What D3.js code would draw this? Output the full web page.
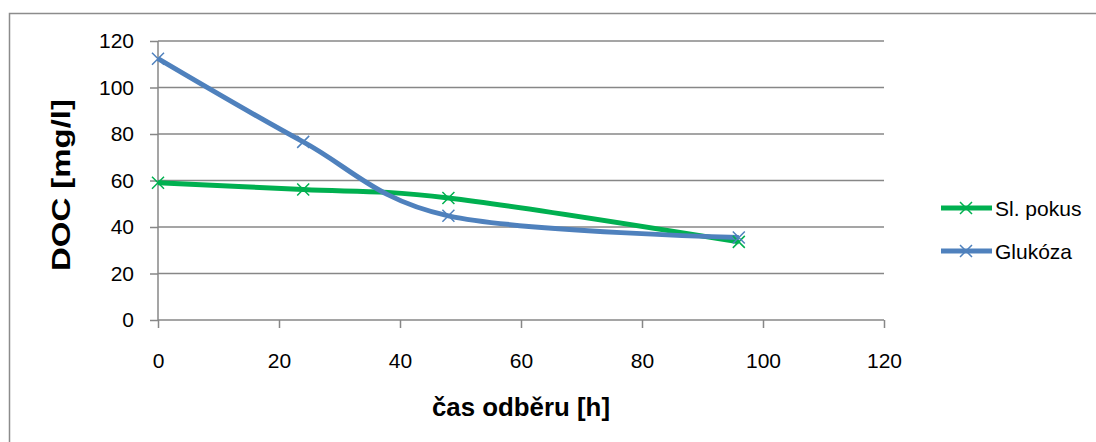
<!DOCTYPE html>
<html><head><meta charset="utf-8">
<script src="https://cdn.jsdelivr.net/npm/d3@7"></script>
<style>body{margin:0;background:#fff}svg{display:block}</style>
</head><body>
<svg id="c" width="1096" height="442"></svg>
<script>
const hours = [0, 24, 48, 96];
const slPokus = [59.0, 56.1, 52.5, 33.6];
const glukoza = [112.4, 76.6, 44.8, 35.5];
const seriesNames = ["Sl. pokus", "Glukóza"];
const seriesColors = ["#00B050", "#4F81BD"];
const xTicks = [0, 20, 40, 60, 80, 100, 120];
const yTicks = [0, 20, 40, 60, 80, 100, 120];
const xTitle = "čas odběru [h]";
const yTitle = "DOC [mg/l]";

const svg = d3.select("#c");
const font = "'Liberation Sans','Arial',sans-serif";
// chart border
svg.append("rect").attr("x",9.5).attr("y",13.5).attr("width",1100).attr("height",440)
  .attr("fill","none").attr("stroke","#8c8c8c").attr("stroke-width",1.5);

const x = d3.scaleLinear().domain([0,120]).range([158,884]);
const y = d3.scaleLinear().domain([0,120]).range([320,41]);

// gridlines
svg.append("g").selectAll("line").data(yTicks.filter(d=>d>0)).join("line")
  .attr("x1",x(0)).attr("x2",x(120)).attr("y1",d=>y(d)).attr("y2",d=>y(d))
  .attr("stroke","#878787").attr("stroke-width",1.5);

const xa = svg.append("g").attr("transform",`translate(0,${y(0)})`)
  .call(d3.axisBottom(x).tickValues(xTicks).tickSize(8).tickPadding(25));
const ya = svg.append("g").attr("transform",`translate(${x(0)},0)`)
  .call(d3.axisLeft(y).tickValues(yTicks).tickSize(8).tickPadding(16));
[xa,ya].forEach(a=>{
  a.select(".domain").attr("stroke","#878787").attr("stroke-width",1.5);
  a.selectAll(".tick line").attr("stroke","#878787").attr("stroke-width",1.5);
  a.selectAll("text").attr("font-family",font).attr("font-size",21).attr("fill","#000");
});
xa.select(".domain").attr("d",`M${x(0)},0H${x(120)}`);
ya.select(".domain").attr("d",`M0,${y(0)}V${y(120)}`);

svg.append("text").attr("x",521).attr("y",416).attr("text-anchor","middle")
  .attr("font-family",font).attr("font-weight","bold").attr("font-size",25)
  .attr("textLength",178).attr("lengthAdjust","spacingAndGlyphs").text(xTitle);
svg.append("text").attr("transform","translate(70,185) rotate(-90)").attr("text-anchor","middle")
  .attr("font-family",font).attr("font-weight","bold").attr("font-size",25)
  .attr("textLength",172).attr("lengthAdjust","spacingAndGlyphs").text(yTitle);

const line = d3.line().x(d=>x(d[0])).y(d=>y(d[1])).curve(d3.curveCatmullRom.alpha(0));
const data = [slPokus, glukoza];
data.forEach((vals,i)=>{
  const pts = hours.map((h,j)=>[h,vals[j]]);
  svg.append("path").datum(pts).attr("d",line).attr("fill","none")
    .attr("stroke",seriesColors[i]).attr("stroke-width",5).attr("stroke-linejoin","round");
});
data.forEach((vals,i)=>{
  const pts = hours.map((h,j)=>[h,vals[j]]);
  svg.append("g").selectAll("path").data(pts).join("path")
    .attr("d",d=>{const cx=x(d[0]),cy=y(d[1]),s=6;return `M${cx-s},${cy-s}L${cx+s},${cy+s}M${cx-s},${cy+s}L${cx+s},${cy-s}`;})
    .attr("stroke",seriesColors[i]).attr("stroke-width",1.5).attr("fill","none");
});

// legend
const legY = [208, 251];
seriesNames.forEach((n,i)=>{
  const g = svg.append("g");
  g.append("line").attr("x1",941).attr("x2",992).attr("y1",legY[i]).attr("y2",legY[i])
    .attr("stroke",seriesColors[i]).attr("stroke-width",5);
  g.append("path").attr("d",`M${966-6},${legY[i]-6}L${966+6},${legY[i]+6}M${966-6},${legY[i]+6}L${966+6},${legY[i]-6}`)
    .attr("stroke",seriesColors[i]).attr("stroke-width",1.5);
  g.append("text").attr("x",995).attr("y",legY[i]+8).attr("font-family",font).attr("font-size",21).text(n);
});
</script>
</body></html>
